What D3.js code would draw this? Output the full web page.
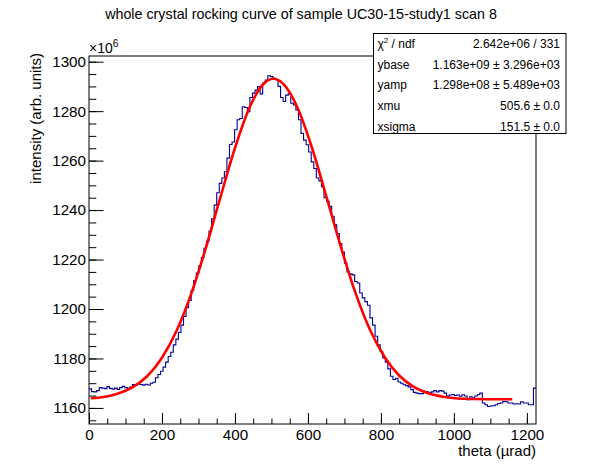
<!DOCTYPE html>
<html>
<head>
<meta charset="utf-8">
<script src="https://cdn.jsdelivr.net/npm/d3@7"></script>
<style>
  body { margin: 0; background: #fff; }
  svg { display: block; font-family: "Liberation Sans", Arial, Helvetica, sans-serif; }
</style>
</head>
<body>
<div id="chart"></div>
<script>
// histogram: bins of width 7 urad starting at 0, values in units of 1e6
var binWidth = 7;
var counts = [
  1167.7, 1166.6, 1166.5, 1167.0, 1168.2, 1168.0, 1167.8, 1168.6, 1167.9, 1167.6,
  1168.0, 1167.5, 1168.2, 1168.7, 1168.2, 1167.9, 1168.4, 1169.5, 1169.3, 1169.8,
  1169.5, 1169.2, 1169.6, 1169.3, 1170.0, 1170.4, 1172.2, 1173.5, 1174.8, 1176.5,
  1178.5, 1180.8, 1182.5, 1185.5, 1187.8, 1190.5, 1193.5, 1197.0, 1200.5, 1203.5,
  1207.5, 1211.5, 1214.5, 1217.5, 1220.8, 1224.5, 1227.5, 1231.5, 1236.5, 1242.0,
  1247.0, 1250.8, 1253.0, 1255.5, 1261.0, 1266.5, 1267.5, 1272.5, 1276.5, 1277.0,
  1281.8, 1281.5, 1279.8, 1285.5, 1287.3, 1288.5, 1289.9, 1287.0, 1291.3, 1292.6,
  1294.3, 1294.0, 1293.3, 1292.8, 1290.0, 1285.5, 1283.9, 1286.5, 1287.0, 1283.2,
  1282.5, 1280.5, 1276.5, 1271.0, 1268.3, 1266.4, 1263.5, 1259.5, 1256.8, 1253.0,
  1251.8, 1249.5, 1245.0, 1243.5, 1241.5, 1237.5, 1234.0, 1230.5, 1226.5, 1223.0,
  1218.5, 1215.0, 1214.2, 1213.8, 1211.1, 1210.5, 1206.5, 1204.5, 1203.0, 1201.5,
  1196.4, 1193.5, 1189.0, 1185.5, 1182.8, 1180.2, 1178.5, 1175.8, 1172.8, 1171.5,
  1172.0, 1170.5, 1170.0, 1169.4, 1169.0, 1168.5, 1167.4, 1166.3, 1166.0, 1165.8,
  1165.8, 1166.7, 1166.5, 1166.1, 1166.5, 1167.0, 1166.5, 1167.0, 1166.8, 1166.0,
  1164.8, 1165.2, 1165.4, 1165.0, 1165.2, 1164.7, 1165.3, 1164.8, 1163.3, 1164.5,
  1164.0, 1164.8, 1165.3, 1166.0, 1162.0, 1161.3, 1160.6, 1160.8, 1160.9, 1161.3,
  1161.8, 1162.0, 1162.6, 1162.5, 1162.0, 1162.0, 1161.6, 1161.7, 1161.6, 1162.5,
  1162.0, 1162.0, 1161.3, 1161.3, 1168.0
];

// fitted gaussian
var fitX = [5, 40, 80, 120, 160, 200, 240, 280, 320, 360, 400, 440, 480, 505,
            530, 570, 610, 650, 690, 730, 770, 810, 850, 890, 930, 970, 1010, 1060, 1110, 1160];
var fitY = [1163.9, 1164.4, 1165.8, 1168.4, 1172.9, 1180.3, 1191.2, 1206.1, 1224.6, 1245.1,
            1265.1, 1281.5, 1291.3, 1293.1, 1291.4, 1281.9, 1265.7, 1245.7, 1225.2, 1206.6,
            1191.6, 1180.6, 1173.1, 1168.5, 1165.9, 1164.5, 1163.8, 1163.6, 1163.5, 1163.5];

var xMajor = [0, 200, 400, 600, 800, 1000, 1200];
var yMajor = [1160, 1180, 1200, 1220, 1240, 1260, 1280, 1300];

var statNames = ["ndf", "ybase", "yamp", "xmu", "xsigma"];
var statValues = ["2.642e+06 / 331", "1.163e+09 \u00b1 3.296e+03", "1.298e+08 \u00b1 5.489e+03",
                  "505.6 \u00b1 0.0", "151.5 \u00b1 0.0"];

var W = 596, H = 472;
var fl = 89, fr = 536, ft = 56, fb = 424;

var svg = d3.select("#chart").append("svg")
  .attr("width", W)
  .attr("height", H);

var x = d3.scaleLinear().domain([0, 1225]).range([fl, fr]);
var y = d3.scaleLinear().domain([1153.5, 1302.3]).range([fb, ft]);

// frame
svg.append("rect")
  .attr("x", fl).attr("y", ft)
  .attr("width", fr - fl).attr("height", fb - ft)
  .attr("fill", "none").attr("stroke", "#000").attr("stroke-width", 1);

// histogram outline
var histPts = counts.map(function(d, i) { return [i * binWidth, d]; });
histPts.push([counts.length * binWidth, counts[counts.length - 1]]);
svg.append("path")
  .datum(histPts)
  .attr("fill", "none")
  .attr("stroke", "#000099")
  .attr("stroke-width", 1.1)
  .attr("d", d3.line()
    .x(function(d) { return x(d[0]); })
    .y(function(d) { return y(d[1]); })
    .curve(d3.curveStepAfter));

// fit curve
svg.append("path")
  .datum(d3.zip(fitX, fitY))
  .attr("fill", "none")
  .attr("stroke", "#ff0000")
  .attr("stroke-width", 2.6)
  .attr("d", d3.line()
    .x(function(d) { return x(d[0]); })
    .y(function(d) { return y(d[1]); })
    .curve(d3.curveMonotoneX));

// axes, ticks pointing inwards
var xMinor = d3.range(0, 1226, 50);
var yMinor = d3.range(1155, 1302, 5);

svg.append("g")
  .attr("transform", "translate(0," + fb + ")")
  .call(d3.axisBottom(x).tickValues(xMinor).tickSize(-5.5).tickFormat(""))
  .call(function(g) { g.select(".domain").remove(); });
svg.append("g")
  .attr("class", "xaxis")
  .attr("transform", "translate(0," + fb + ")")
  .call(d3.axisBottom(x).tickValues(xMajor).tickSize(-11).tickPadding(5).tickFormat(d3.format("d")))
  .call(function(g) { g.select(".domain").remove(); });

svg.append("g")
  .attr("transform", "translate(" + fl + ",0)")
  .call(d3.axisLeft(y).tickValues(yMinor).tickSize(-7.3).tickFormat(""))
  .call(function(g) { g.select(".domain").remove(); });
svg.append("g")
  .attr("class", "yaxis")
  .attr("transform", "translate(" + fl + ",0)")
  .call(d3.axisLeft(y).tickValues(yMajor).tickSize(-14.5).tickPadding(3).tickFormat(d3.format("d")))
  .call(function(g) { g.select(".domain").remove(); });

svg.selectAll(".tick line").attr("stroke", "#000").attr("stroke-width", 1);
svg.selectAll(".xaxis text, .yaxis text")
  .attr("font-family", "Liberation Sans, Arial, sans-serif")
  .attr("font-size", 15.2)
  .attr("fill", "#000");

// exponent
var ex = svg.append("text")
  .attr("x", fl).attr("y", 53)
  .attr("font-size", 14);
ex.append("tspan").text("\u00d710");
ex.append("tspan").attr("dy", -6).attr("font-size", 10).text("6");

// titles
svg.append("text")
  .attr("x", 301).attr("y", 19)
  .attr("text-anchor", "middle")
  .attr("font-size", 14.3)
  .text("whole crystal rocking curve of sample UC30-15-study1 scan 8");

svg.append("text")
  .attr("transform", "translate(41,53) rotate(-90)")
  .attr("text-anchor", "end")
  .attr("font-size", 15)
  .text("intensity (arb. units)");

svg.append("text")
  .attr("x", fr).attr("y", 456)
  .attr("text-anchor", "end")
  .attr("font-size", 15)
  .text("theta (\u00b5rad)");

// stats box
var bx = 373.5, by = 33.5, bw = 192.5, bh = 100, rowH = 20.8;
svg.append("rect")
  .attr("x", bx).attr("y", by)
  .attr("width", bw).attr("height", bh)
  .attr("fill", "#fff").attr("stroke", "#000").attr("stroke-width", 1);

var rows = svg.append("g").selectAll("g")
  .data(statNames)
  .enter().append("g")
  .attr("transform", function(d, i) { return "translate(0," + (by + 10 + i * rowH + 4.3) + ")"; });

rows.append("text")
  .attr("x", bx + 4)
  .attr("font-size", 12)
  .each(function(d, i) {
    var t = d3.select(this);
    if (i === 0) {
      t.append("tspan").text("\u03c7");
      t.append("tspan").attr("dy", -5).attr("font-size", 8).text("2");
      t.append("tspan").attr("dy", 5).text(" / ndf");
    } else {
      t.text(d);
    }
  });

rows.append("text")
  .attr("x", bx + bw - 6)
  .attr("text-anchor", "end")
  .attr("font-size", 12)
  .text(function(d, i) { return statValues[i]; });
</script>
</body>
</html>
